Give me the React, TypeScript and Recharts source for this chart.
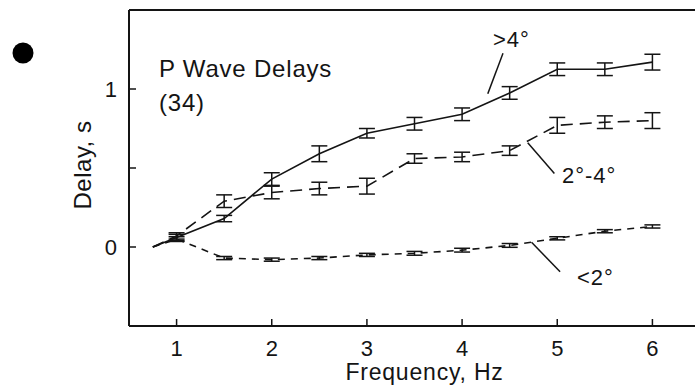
import { LineChart, Line, XAxis, YAxis, ErrorBar, ReferenceLine, Label } from 'recharts';

// frequency (Hz) and mean delay (s) for the three distance groups
const freqs = [0.75, 1, 1.5, 2, 2.5, 3, 3.5, 4, 4.5, 5, 5.5, 6];
const over4 = [0, 0.06, 0.18, 0.43, 0.59, 0.72, 0.78, 0.84, 0.975, 1.125, 1.125, 1.17];
const over4Err = [null, 0.02, 0.02, 0.04, 0.05, 0.03, 0.04, 0.04, 0.04, 0.04, 0.04, 0.05];
const mid = [0, 0.07, 0.29, 0.345, 0.37, 0.385, 0.56, 0.57, 0.61, 0.77, 0.79, 0.8];
const midErr = [null, 0.02, 0.04, 0.04, 0.04, 0.05, 0.03, 0.03, 0.03, 0.05, 0.04, 0.05];
const under2 = [0, 0.05, -0.07, -0.08, -0.07, -0.05, -0.04, -0.02, 0.01, 0.055, 0.1, 0.13];
const under2Err = [null, 0.015, 0.01, 0.01, 0.01, 0.01, 0.012, 0.012, 0.012, 0.01, 0.01, 0.01];

const xTicks = [1, 2, 3, 4, 5, 6];
const yTicks = [0, 0.5, 1];

const data = freqs.map((f, i) => ({
  f,
  over4: over4[i],
  over4Err: over4Err[i],
  mid: mid[i],
  midErr: midErr[i],
  under2: under2[i],
  under2Err: under2Err[i],
}));

const INK = '#141414';
const FONT = '"Liberation Sans", Arial, Helvetica, sans-serif';

const tickStyle = { fill: INK, fontSize: 22, fontFamily: FONT };

export default function App() {
  return (
    <div style={{ position: 'absolute', left: 0, top: 0, width: 695, height: 389, overflow: 'hidden', background: '#fff' }}>
      <LineChart width={710} height={389} data={data} margin={{ top: 9, right: 9, bottom: 0, left: 69 }}>
        <XAxis
          xAxisId="bottom"
          dataKey="f"
          type="number"
          domain={[0.5, 6.5]}
          ticks={xTicks}
          allowDataOverflow
          height={63}
          tickSize={-7}
          tickMargin={21}
          tick={tickStyle}
          axisLine={{ stroke: INK, strokeWidth: 2 }}
          tickLine={{ stroke: INK, strokeWidth: 1.5 }}
        >
          <Label
            content={(p: any) => {
              const vb = p.viewBox;
              const x = vb.x + vb.width / 2 + 10;
              const y = vb.y + 54;
              return (
                <text x={x} y={y} textAnchor="middle" fill={INK} fontSize={23} fontFamily={FONT} letterSpacing={0.8}>
                  Frequency, Hz
                </text>
              );
            }}
          />
        </XAxis>
        <XAxis
          xAxisId="top"
          orientation="top"
          dataKey="f"
          type="number"
          domain={[0.5, 6.5]}
          ticks={xTicks}
          allowDataOverflow
          height={1}
          tickSize={-7}
          tick={false}
          axisLine={{ stroke: INK, strokeWidth: 2 }}
          tickLine={{ stroke: INK, strokeWidth: 1.5 }}
        />
        <YAxis
          yAxisId="left"
          type="number"
          domain={[-0.5, 1.5]}
          ticks={yTicks}
          allowDataOverflow
          width={60}
          tickSize={-7}
          tickMargin={19}
          tick={tickStyle}
          tickFormatter={(v: number) => (v === 0.5 ? '' : String(v))}
          axisLine={{ stroke: INK, strokeWidth: 2 }}
          tickLine={{ stroke: INK, strokeWidth: 1.5 }}
        >
          <Label
            content={(p: any) => {
              const vb = p.viewBox;
              const x = vb.x + 13;
              const y = vb.y + vb.height / 2 - 3;
              return (
                <text
                  x={x}
                  y={y}
                  transform={`rotate(-90 ${x} ${y})`}
                  textAnchor="middle"
                  dominantBaseline="central"
                  fill={INK}
                  fontSize={24}
                  fontFamily={FONT}
                  letterSpacing={0.5}
                >
                  Delay, s
                </text>
              );
            }}
          />
        </YAxis>
        <YAxis
          yAxisId="right"
          orientation="right"
          type="number"
          domain={[-0.5, 1.5]}
          ticks={yTicks}
          allowDataOverflow
          width={1}
          tickSize={-7}
          tick={false}
          axisLine={{ stroke: INK, strokeWidth: 2 }}
          tickLine={{ stroke: INK, strokeWidth: 1.5 }}
        />

        <Line
          xAxisId="bottom"
          yAxisId="left"
          dataKey="under2"
          stroke={INK}
          strokeWidth={1.6}
          strokeDasharray="7 6"
          dot={false}
          isAnimationActive={false}
        >
          <ErrorBar dataKey="under2Err" width={8} stroke={INK} strokeWidth={1.5} direction="y" isAnimationActive={false} />
        </Line>
        <Line
          xAxisId="bottom"
          yAxisId="left"
          dataKey="mid"
          stroke={INK}
          strokeWidth={1.6}
          strokeDasharray="12 7"
          dot={false}
          isAnimationActive={false}
        >
          <ErrorBar dataKey="midErr" width={8} stroke={INK} strokeWidth={1.5} direction="y" isAnimationActive={false} />
        </Line>
        <Line
          xAxisId="bottom"
          yAxisId="left"
          dataKey="over4"
          stroke={INK}
          strokeWidth={1.6}
          dot={false}
          isAnimationActive={false}
        >
          <ErrorBar dataKey="over4Err" width={8} stroke={INK} strokeWidth={1.5} direction="y" isAnimationActive={false} />
        </Line>

        {/* leader lines for the group labels */}
        <ReferenceLine
          xAxisId="bottom"
          yAxisId="left"
          segment={[{ x: 4.43, y: 1.226 }, { x: 4.27, y: 0.97 }]}
          stroke={INK}
          strokeWidth={1.5}
          ifOverflow="visible"
        />
        <ReferenceLine
          xAxisId="bottom"
          yAxisId="left"
          segment={[{ x: 4.69, y: 0.66 }, { x: 4.97, y: 0.465 }]}
          stroke={INK}
          strokeWidth={1.5}
          ifOverflow="visible"
        />
        <ReferenceLine
          xAxisId="bottom"
          yAxisId="left"
          segment={[{ x: 4.73, y: 0.03 }, { x: 5.03, y: -0.157 }]}
          stroke={INK}
          strokeWidth={1.5}
          ifOverflow="visible"
        />
      </LineChart>

      <svg width={695} height={389} style={{ position: 'absolute', left: 0, top: 0, pointerEvents: 'none' }}>
        <circle cx={23} cy={53} r={10.5} fill="#000" />
        <g fill={INK} fontFamily={FONT}>
          <text x={159} y={77} fontSize={24} letterSpacing={0.8}>P Wave Delays</text>
          <text x={159} y={111} fontSize={24} letterSpacing={0.8}>(34)</text>
          <text x={493} y={47} fontSize={22} letterSpacing={1}>&gt;4°</text>
          <text x={562} y={183} fontSize={22} letterSpacing={1}>2°-4°</text>
          <text x={577} y={285} fontSize={22} letterSpacing={1}>&lt;2°</text>
        </g>
      </svg>
    </div>
  );
}
